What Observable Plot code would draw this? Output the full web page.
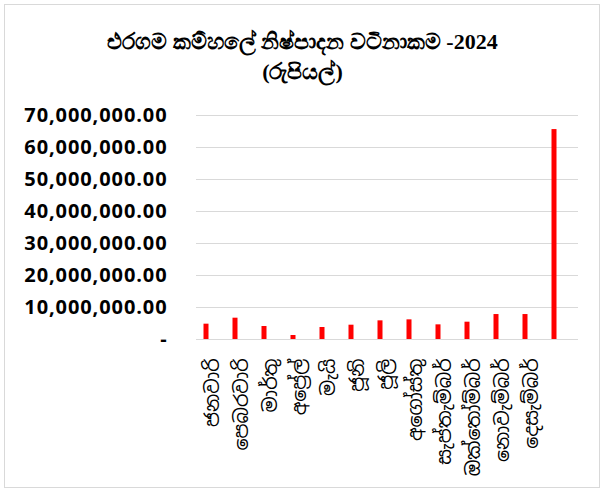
<!DOCTYPE html>
<html>
<head>
<meta charset="utf-8">
<script src="https://cdn.jsdelivr.net/npm/d3@7"></script>
<script src="https://cdn.jsdelivr.net/npm/@observablehq/plot@0.6"></script>
<style>
  html, body { margin: 0; padding: 0; background: #fff; }
  body { width: 605px; height: 491px; position: relative; overflow: hidden; }
  #frame { position: absolute; left: 4px; top: 4px; width: 596px; height: 484px; border: 1px solid #d9d9d9; box-sizing: border-box; }
  #title { position: absolute; left: 0; top: 0; width: 605px; height: 95px; text-align: center;
           font-family: "Liberation Serif", "Times New Roman", serif; font-weight: bold; font-size: 22px; line-height: 29px; color: #000; }
  #title .l1 { position: absolute; left: 0; right: 0; top: 27px; }
  #title .l2 { position: absolute; left: 0; right: 0; top: 57px; }
  #chart { position: absolute; left: 0; top: 95px; }
  #chart g[aria-label="y-axis tick label"] text { letter-spacing: 0.9px; }
</style>
</head>
<body>
<div id="frame"></div>
<div id="title"><div class="l1">එරගම කම්හලේ නිෂ්පාදන වටිනාකම -2024</div><div class="l2">(රුපියල්)</div></div>
<div id="chart"></div>
<script>
// Data (rupees)
const categories = ["ජනවාරි","පෙබරවාරි","මාර්තු","අප්‍රේල්","මැයි","ජූනි","ජූලි","අගෝස්තු","සැප්තැම්බර්","ඔක්තෝම්බර්","නොවැම්බර්","දෙසැම්බර්","එකතුව"];
const tickLabels = ["ජනවාරි","පෙබරවාරි","මාර්තු","අප්‍රේල්","මැයි","ජූනි","ජූලි","අගෝස්තු","සැප්තැම්බර්","ඔක්තෝම්බර්","නොවැම්බර්","දෙසැම්බර්",""];
const values = [4790000, 6660000, 4060000, 1250000, 3750000, 4470000, 5830000, 6140000, 4580000, 5410000, 7800000, 7800000, 65600000];
const yTicks = [0, 10000000, 20000000, 30000000, 40000000, 50000000, 60000000, 70000000];

const data = categories.map((c, i) => ({cat: c, value: values[i]}));
const labelOf = new Map(categories.map((c, i) => [c, tickLabels[i]]));
const fmt = d3.format(",.2f");

const chart = Plot.plot({
  width: 605,
  height: 396,
  marginTop: 20,
  marginBottom: 152,
  marginLeft: 196,
  marginRight: 27,
  style: {background: "transparent", overflow: "visible"},
  x: {domain: categories, paddingInner: 0.82, paddingOuter: 0.41, label: null},
  y: {domain: [0, 70000000], label: null},
  marks: [
    Plot.gridY(yTicks, {stroke: "#d9d9d9", strokeOpacity: 1, strokeWidth: 1}),
    Plot.barY(data, {x: "cat", y: "value", fill: "#ff0000", dx: -6.5}),
    Plot.ruleY([0], {stroke: "#d9d9d9", strokeWidth: 1}),
    Plot.axisY(yTicks, {tickSize: 0, tickPadding: 29, tickFormat: d => d === 0 ? "-" : fmt(d),
      fontSize: 20, fontWeight: "bold", fontFamily: "'Open Sans', Lato, sans-serif", fill: "#000"}),
    Plot.axisX({tickSize: 0, tickPadding: 19, tickRotate: -90, tickFormat: d => labelOf.get(d),
      fontSize: 19, fontFamily: "'Noto Sans Sinhala', 'Iskoola Pota', sans-serif", fill: "#000"})
  ]
});
document.getElementById("chart").appendChild(chart);
</script>
</body>
</html>
